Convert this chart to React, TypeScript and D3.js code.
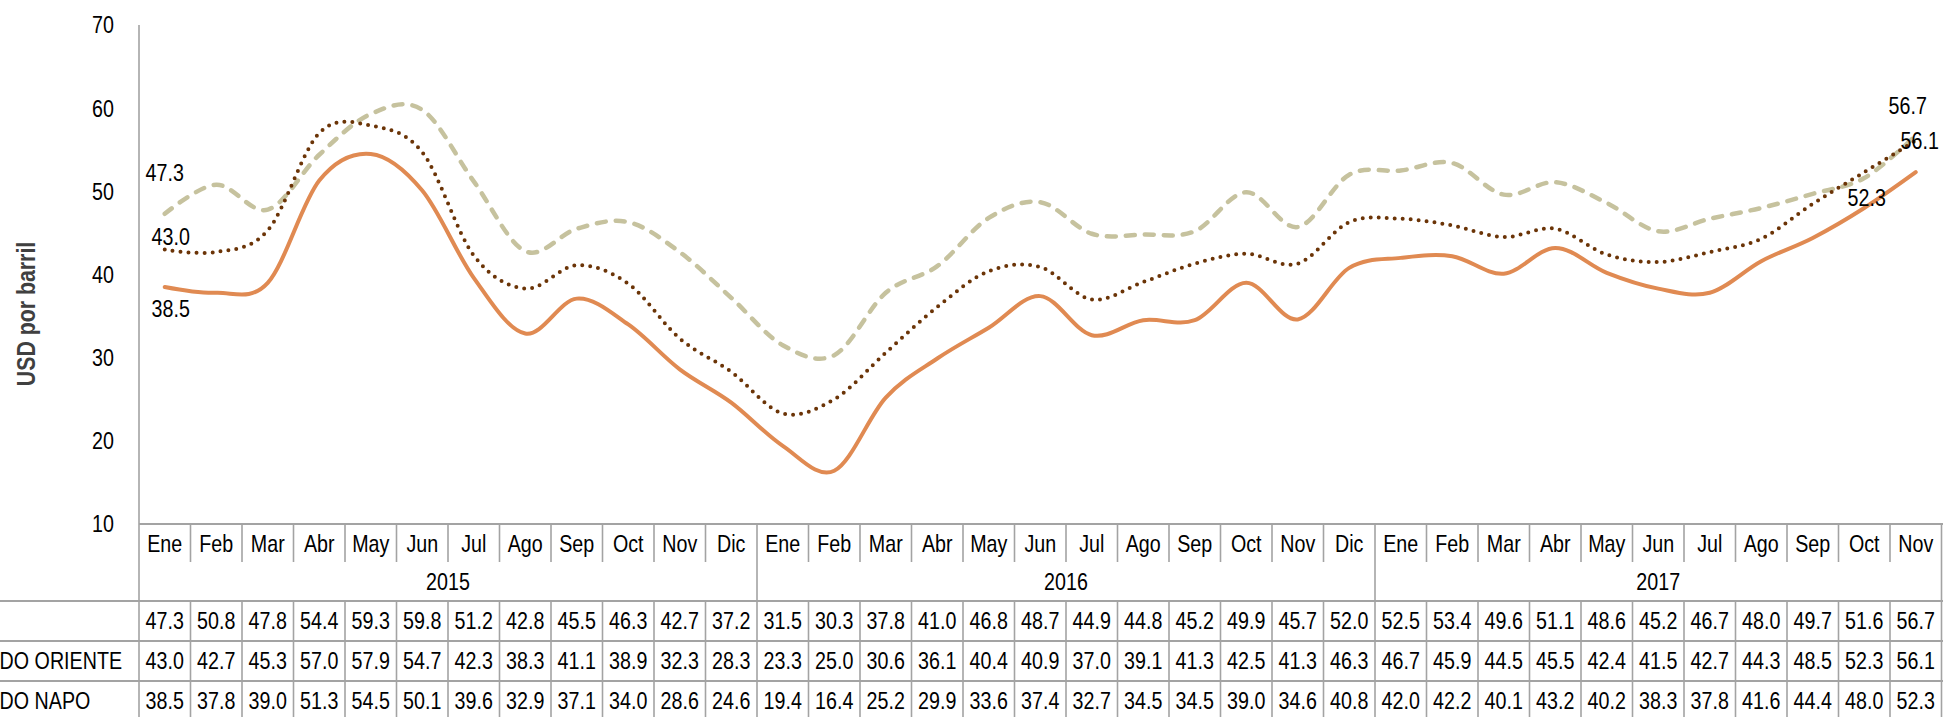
import React from "react";
import * as d3 from "d3";

const monthNames = ["Ene", "Feb", "Mar", "Abr", "May", "Jun", "Jul", "Ago", "Sep", "Oct", "Nov", "Dic"];
const years = ["2015", "2016", "2017"];
const monthsPerYear = [12, 12, 11];

const seriesNames = ["WTI", "CRUDO ORIENTE", "CRUDO NAPO"];

const wti = [47.3, 50.8, 47.8, 54.4, 59.3, 59.8, 51.2, 42.8, 45.5, 46.3, 42.7, 37.2,
  31.5, 30.3, 37.8, 41.0, 46.8, 48.7, 44.9, 44.8, 45.2, 49.9, 45.7, 52.0,
  52.5, 53.4, 49.6, 51.1, 48.6, 45.2, 46.7, 48.0, 49.7, 51.6, 56.7];
const oriente = [43.0, 42.7, 45.3, 57.0, 57.9, 54.7, 42.3, 38.3, 41.1, 38.9, 32.3, 28.3,
  23.3, 25.0, 30.6, 36.1, 40.4, 40.9, 37.0, 39.1, 41.3, 42.5, 41.3, 46.3,
  46.7, 45.9, 44.5, 45.5, 42.4, 41.5, 42.7, 44.3, 48.5, 52.3, 56.1];
const napo = [38.5, 37.8, 39.0, 51.3, 54.5, 50.1, 39.6, 32.9, 37.1, 34.0, 28.6, 24.6,
  19.4, 16.4, 25.2, 29.9, 33.6, 37.4, 32.7, 34.5, 34.5, 39.0, 34.6, 40.8,
  42.0, 42.2, 40.1, 43.2, 40.2, 38.3, 37.8, 41.6, 44.4, 48.0, 52.3];

const yTicks = [10, 20, 30, 40, 50, 60, 70];

const W = 1943;
const H = 717;
const FONT = "'Liberation Sans', Arial, sans-serif";
const NARROW = 0.82;

type NTProps = {
  x: number; y: number; children: React.ReactNode; anchor?: string;
  size?: number; weight?: string; fill?: string; rotate?: number;
};
function NText({ x, y, children, anchor = "middle", size = 24, weight = "normal", fill = "#000", rotate = 0 }: NTProps) {
  return (
    <text
      transform={`translate(${x},${y}) rotate(${rotate}) scale(${NARROW},1)`}
      textAnchor={anchor}
      dy="0.35em"
      fontFamily={FONT}
      fontSize={size}
      fontWeight={weight}
      fill={fill}
    >
      {children}
    </text>
  );
}

export default function App() {
  const labels: string[] = [];
  monthsPerYear.forEach((n, yi) => {
    for (let i = 0; i < n; i++) labels.push(`${years[yi]}-${monthNames[i]}`);
  });
  const n = labels.length;
  const left = 139;
  const colW = 51.5;
  const x = d3.scaleBand<string>().domain(labels).range([left, left + n * colW]).paddingInner(0).paddingOuter(0);
  const cx = (i: number) => (x(labels[i]) as number) + x.bandwidth() / 2;
  const y = d3.scaleLinear().domain([10, 70]).range([524, 25]);

  const line = d3.line<number>()
    .x((_, i) => cx(i))
    .y((d) => y(d))
    .curve(d3.curveCardinal.tension(0));

  const series = [
    { name: seriesNames[0], data: wti, stroke: "#c6c29e", width: 4.5, dash: "9 10", cap: "round" },
    { name: seriesNames[1], data: oriente, stroke: "#6b3407", width: 4, dash: "0 8", cap: "round" },
    { name: seriesNames[2], data: napo, stroke: "#e08a52", width: 4, dash: undefined, cap: "round" },
  ];

  const gridColor = "#a3a3a3";
  const topLine = 524;
  const monthSepEnd = 562;
  const yearLine = 601;
  const rowH = 40;
  const rowLines = [yearLine, yearLine + rowH, yearLine + 2 * rowH, yearLine + 3 * rowH];
  const right = left + n * colW;

  const yearStarts: number[] = [];
  let acc = 0;
  monthsPerYear.forEach((m) => { yearStarts.push(acc); acc += m; });

  const last = n - 1;
  const firstLabels = [
    { v: wti[0], dx: 0, dy: -41 },
    { v: oriente[0], dx: 6, dy: -13 },
    { v: napo[0], dx: 6, dy: 22 },
  ];
  const lastLabels = [
    { v: wti[last], dx: -8, dy: -30 },
    { v: oriente[last], dx: 4, dy: 0 },
    { v: napo[last], dx: -49, dy: 25 },
  ];

  return (
    <svg width={W} height={H} style={{ position: "absolute", left: 0, top: 0, background: "#fff" }}>
      <rect x={0} y={0} width={W} height={H} fill="#fff" />
      <NText x={26} y={314} rotate={-90} size={26} weight="bold" fill="#404040">USD por barril</NText>
      {yTicks.map((t) => (
        <NText key={t} x={114} y={y(t)} anchor="end">{t}</NText>
      ))}
      <line x1={left} x2={left} y1={y(70)} y2={H} stroke={gridColor} strokeWidth={1.6} />

      <line x1={left} x2={W} y1={topLine} y2={topLine} stroke={gridColor} strokeWidth={2} />
      {labels.map((l, i) => i > 0 ? (
        <line key={"ms" + l} x1={x(l) as number} x2={x(l) as number} y1={topLine}
          y2={yearStarts.includes(i) ? yearLine : monthSepEnd} stroke={gridColor} strokeWidth={1.6} />
      ) : null)}
      <line x1={right} x2={right} y1={topLine} y2={H} stroke={gridColor} strokeWidth={1.6} />
      {rowLines.map((ry) => (
        <line key={"rl" + ry} x1={0} x2={W} y1={ry} y2={ry} stroke={gridColor} strokeWidth={2} />
      ))}
      {labels.map((l, i) => i > 0 ? (
        <line key={"ds" + l} x1={x(l) as number} x2={x(l) as number} y1={yearLine} y2={H} stroke={gridColor} strokeWidth={1.6} />
      ) : null)}

      {labels.map((l, i) => (
        <NText key={"m" + l} x={cx(i)} y={544}>{l.split("-")[1]}</NText>
      ))}
      {years.map((yr, yi) => {
        const s = yearStarts[yi];
        const e = s + monthsPerYear[yi];
        const mid = ((x(labels[s]) as number) + (x(labels[e - 1]) as number) + colW) / 2;
        return <NText key={yr} x={mid} y={582}>{yr}</NText>;
      })}
      {series.map((s, si) => (
        <g key={s.name}>
          <NText x={-43} y={yearLine + si * rowH + rowH / 2} anchor="start">{s.name}</NText>
          {s.data.map((v, i) => (
            <NText key={i} x={cx(i)} y={yearLine + si * rowH + rowH / 2}>{v.toFixed(1)}</NText>
          ))}
        </g>
      ))}

      {series.map((s) => (
        <path key={"p" + s.name} d={line(s.data) as string} fill="none" stroke={s.stroke}
          strokeWidth={s.width} strokeDasharray={s.dash} strokeLinecap={s.cap as any} strokeLinejoin="round" />
      ))}

      {firstLabels.map((lb, i) => (
        <NText key={"fl" + i} x={cx(0) + lb.dx} y={y(lb.v) + lb.dy}>{lb.v.toFixed(1)}</NText>
      ))}
      {lastLabels.map((lb, i) => (
        <NText key={"ll" + i} x={cx(last) + lb.dx} y={y(lb.v) + lb.dy}>{lb.v.toFixed(1)}</NText>
      ))}
    </svg>
  );
}
